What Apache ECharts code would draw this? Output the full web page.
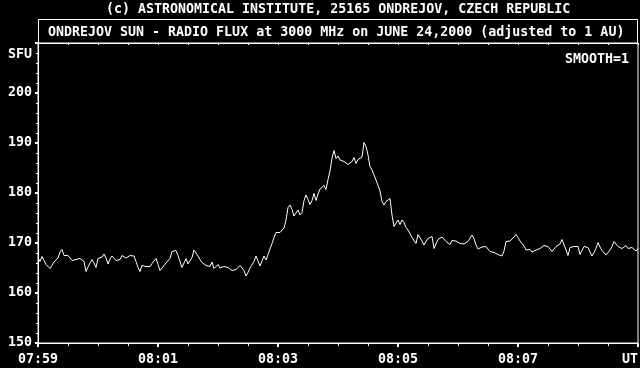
<!DOCTYPE html>
<html><head><meta charset="utf-8">
<script src="https://cdn.jsdelivr.net/npm/echarts@6/dist/echarts.min.js"></script>
<style>html,body{margin:0;padding:0;background:#000;}#c{width:640px;height:368px;}</style>
</head><body><div id="c"></div>
<script>
const topTitle = '(c) ASTRONOMICAL INSTITUTE, 25165 ONDREJOV, CZECH REPUBLIC';
const boxTitle = 'ONDREJOV SUN - RADIO FLUX at 3000 MHz on JUNE 24,2000 (adjusted to 1 AU)';
const smoothNote = 'SMOOTH=1';
const yUnit = 'SFU';
const xTickLabels = ['07:59', '08:01', '08:03', '08:05', '08:07', 'UT'];
const xTickSeconds = [0, 120, 240, 360, 480, 600];
const yTickValues = [150, 160, 170, 180, 190, 200];
const sampleStepSec = 2; // seconds after 07:59:00 between samples

// Flux (SFU), one value every 2 s
const flux0759 = [167.1,166.3,167.3,166.5,165.7,165.3,164.9,165.5,166.2,166.3,
  167.0,168.2,168.7,167.5,167.8,167.5,167.3,166.5,166.5,166.7,
  166.4,166.9,166.9,166.3,164.3,165.2,166.0,166.7,166.0,165.1,
  166.9,167.1,167.2,167.8,167.0,165.8,166.8,167.4,167.1,166.5,
  166.1,166.7,167.5,167.4,167.0,167.4,167.5,167.8,167.4,166.3,165.1,164.3];
const flux0800 = [165.5,165.2,165.3,165.5,165.3,165.9,166.3,166.9,165.7,164.5,
  165.0,165.5,166.0,166.2,166.9,168.3,168.1,168.5,167.5,167.7,
  165.1,165.3,166.9,165.8,165.7,167.1,168.6,168.2,167.4,166.7,
  166.1,166.3,165.5,165.7,165.3,166.2,164.9,165.1,165.7,165.0,
  164.8,165.3,165.0,165.1,164.7,164.5,164.7,164.7,164.9];
const flux0802 = [165.5,165.1,164.5,163.4,164.1,165.0,165.1,166.3,167.4,166.4,
  165.4,165.7,167.4,166.6,167.7,167.9,169.9,171.1,172.1,172.2,
  172.1,172.5,173.0,174.6,177.1,177.6,176.7,175.4,175.1,176.6,
  175.6,176.1,178.5,179.6,178.7,177.7,178.5,179.9,178.5,179.8,
  180.8,181.1,181.5,180.7,182.7,184.4,187.0,188.5,186.9,187.4];
const flux0804 = [186.6,186.3,186.3,185.9,185.7,185.4,186.3,187.1,185.9,186.7,
  186.8,187.2,190.1,189.3,187.6,185.3,184.6,183.6,182.6,181.5,
  180.4,178.3,177.6,178.3,178.7,178.9,175.6,173.3,173.3,174.6,
  173.7,174.6,174.1,173.1,172.6,172.6,171.1,170.8,169.9,171.7,
  171.9,170.4,169.6,170.3,170.9,171.3,171.3,168.9,169.3,170.7];
const flux0805 = [170.5,171.2,171.4,170.3,169.9,169.7,170.5,170.3,170.4,170.1,
  169.9,170.0,169.8,169.7,170.3,170.5,171.6,170.9,169.6,168.8,
  169.1,169.2,168.9,169.3,168.8,168.3,168.4,168.1,167.9,167.7,
  167.6,167.4,168.4,170.3,170.5,170.4,170.8,171.2,171.7,171.1,
  170.4,170.1,169.4,168.6,168.3,168.7,168.2,168.3,168.6,168.3];
const flux0807 = [168.9,169.3,169.5,169.5,169.3,169.2,168.3,168.7,169.3,169.5,
  169.8,170.7,170.5,168.6,167.5,169.1,169.2,169.3,169.1,169.3,
  167.7,167.9,169.3,169.6,169.1,168.2,167.4,168.1,168.9,170.1,
  169.2,168.5,168.4,167.6,167.2,168.6,169.3,170.3,169.9,169.3,
  169.1,168.9,169.2,169.5,168.9,169.2,169.1,169.4,168.4,168.9];

const flux = [].concat(flux0759, flux0800, flux0802, flux0804, flux0805, flux0807);
const seriesData = flux.map((v, i) => [i * sampleStepSec, v]);

const FONT = 'DejaVu Sans Mono';
const txt = { color: '#fff', fontFamily: FONT, fontWeight: 'bold', fontSize: 13.3 };
const gtxt = { fill: '#fff', fontFamily: FONT, fontWeight: 'bold', fontSize: 13.3 };

const chart = echarts.init(document.getElementById('c'), null, { renderer: 'canvas' });
chart.setOption({
  backgroundColor: '#000',
  animation: false,
  grid: { left: 38, right: 2, top: 43, bottom: 25, show: true, borderColor: '#fff', borderWidth: 1,
          containLabel: false, outerBoundsMode: 'none' },
  xAxis: [{
    type: 'value', min: 0, max: 600, interval: 120, position: 'bottom',
    axisLine: { show: true, onZero: false, lineStyle: { color: '#fff', width: 1 } },
    axisTick: { show: true, inside: false, length: 4, lineStyle: { color: '#fff', width: 2 } },
    minorTick: { show: true, splitNumber: 4, length: 3, lineStyle: { color: '#fff', width: 1 } },
    axisLabel: Object.assign({ margin: 10, hideOverlap: false, alignMaxLabel: 'right',
      formatter: v => { const i = xTickSeconds.indexOf(v); return i >= 0 ? xTickLabels[i] : ''; } }, txt),
    splitLine: { show: false }, minorSplitLine: { show: false }
  }, {
    type: 'value', min: 0, max: 600, interval: 120, position: 'top',
    axisLine: { show: true, onZero: false, lineStyle: { color: '#fff', width: 1 } },
    axisTick: { show: true, inside: true, length: 2, lineStyle: { color: '#fff', width: 1 } },
    minorTick: { show: true, splitNumber: 4, length: 2, lineStyle: { color: '#fff', width: 1 } },
    axisLabel: { show: false },
    splitLine: { show: false }, minorSplitLine: { show: false }
  }],
  yAxis: {
    type: 'value', min: 150, max: 210, interval: 10,
    axisLine: { show: true, onZero: false, lineStyle: { color: '#fff', width: 1 } },
    axisTick: { show: true, inside: false, length: 3, lineStyle: { color: '#fff', width: 2 } },
    minorTick: { show: true, splitNumber: 5, length: 2, lineStyle: { color: '#fff', width: 1 } },
    axisLabel: Object.assign({ margin: 6, padding: [4, 0, 0, 0], formatter: v => yTickValues.includes(v) ? String(v) : '' }, txt),
    splitLine: { show: false }, minorSplitLine: { show: false }
  },
  series: [{
    type: 'line', xAxisIndex: 0, yAxisIndex: 0, data: seriesData,
    showSymbol: false, symbol: 'none',
    lineStyle: { color: '#fff', width: 1 }
  }]
});

const sfuY = chart.convertToPixel({ yAxisIndex: 0 }, 208);
chart.setOption({
  graphic: [
    { type: 'text', x: 106, y: 10, style: Object.assign({ text: topTitle, verticalAlign: 'middle', align: 'left' }, gtxt) },
    { type: 'rect', shape: { x: 38.5, y: 19.5, width: 599, height: 24 }, style: { fill: 'transparent', stroke: '#fff', lineWidth: 1 } },
    { type: 'text', x: 48, y: 33, style: Object.assign({ text: boxTitle, verticalAlign: 'middle', align: 'left' }, gtxt) },
    { type: 'text', x: 629, y: 60, style: Object.assign({ text: smoothNote, verticalAlign: 'middle', align: 'right' }, gtxt) },
    { type: 'text', x: 32, y: sfuY + 2, style: Object.assign({ text: yUnit, verticalAlign: 'middle', align: 'right' }, gtxt) }
  ]
});
</script>
</body></html>
